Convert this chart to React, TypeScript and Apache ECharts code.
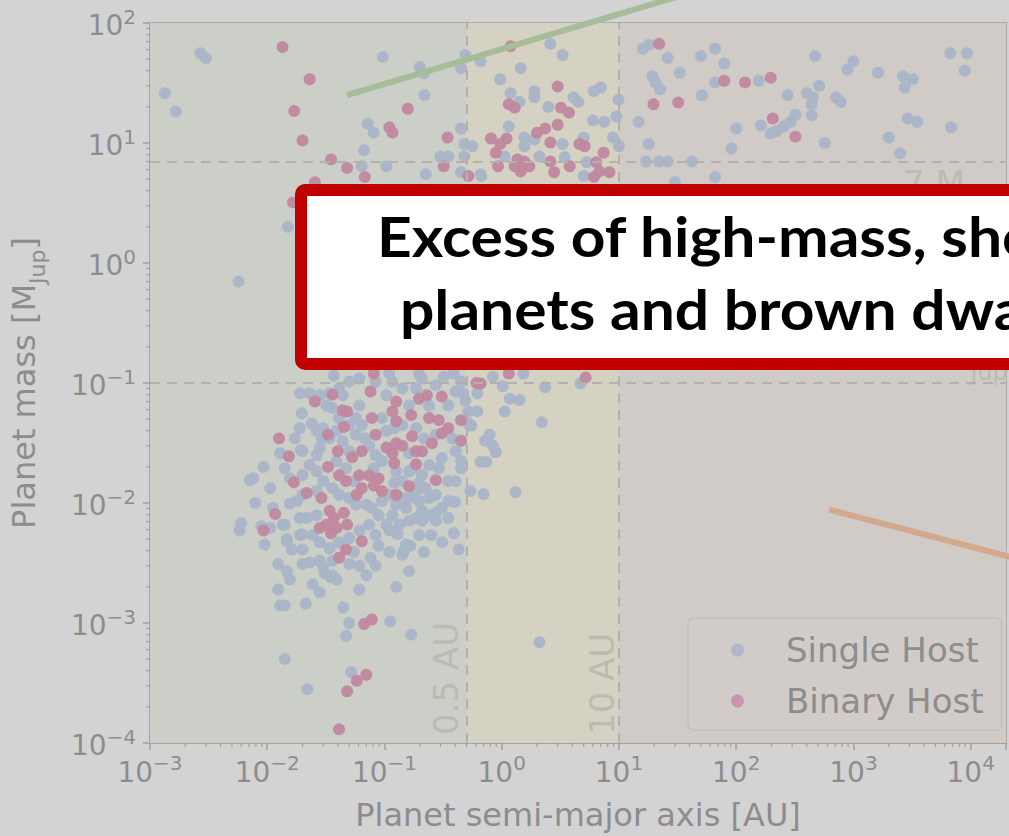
import React, { useEffect, useRef } from 'react';
import * as echarts from 'echarts';

// ---- data: [semi-major axis (AU), mass (M_Jup)] ----
const singleHost: number[][] = [
  [0.00134,26],[0.00166,18.3],[0.0027,56],[0.0030,51],[0.097,52],[0.20,43],[0.217,38],[0.22,25],[0.072,14.5],[0.081,12.2],[0.45,13.2],[0.067,8.7],[0.064,6.4],[0.104,6.4],[0.225,5.5],[0.30,7.7],[0.45,5.7],[0.48,7.7],[0.48,9.8],[0.56,9.4],[0.45,42],[0.49,54],[0.66,48],[0.66,5.5],[0.015,2.0],[0.0057,0.70],
  [2.6,67],[3.3,54],[1.45,42],[0.97,34],[6.1,27],[7.0,29],[1.19,26],[1.9,27],[1.9,24],[1.42,22],[2.5,20],[4.1,24],[4.5,22],[9.9,23],[6.0,15.4],[7.5,15],[9.5,16.6],[1.15,13.7],[1.56,11.1],[1.56,9.4],[1.9,10.7],[3.3,9.8],[5.0,11.1],[8.9,11.1],[10,9.4],[1.06,7.7],[2.1,7.7],[3.45,7.6],[5.3,6.9],[0.67,5.3],[5.0,5.3],[0.35,7.7],
  [16,61],[18,66],[26,51],[50,53],[66,61],[79,46],[19.3,36],[20.5,32],[22.4,28],[33,38.5],[66,32],[156,33],[51,25],[14.7,15],[17.9,9.8],[470,53],[1000,48],[890,41],[1620,38.5],[2640,36],[3200,34],[2740,29],[6700,56],[9300,56],[8900,40],[274,25],[400,26],[450,24],[510,30],[440,21],[440,17],[710,24],[780,22],[320,17.2],[290,15],[254,13.7],[220,12.5],[197,12],[162,14],[100,13.2],[91,9.0],[570,10],[2000,11.1],[2900,16],[3500,15],[2500,8.2],[6800,13.5],[17,7.0],[22,7.0],[26,7.0],[42,7.0],[66,5.2],[30,4.7],
  [1.53,0.12],[0.84,0.113],[1.02,0.094],[2.35,0.092],[4.7,0.099],[1.17,0.074],[1.42,0.072],[0.62,0.058],[1.06,0.058],[2.2,0.047],[0.55,0.044],[0.72,0.033],[0.79,0.037],[0.84,0.030],[0.89,0.0265],[0.66,0.022],[0.74,0.022],[0.54,0.0126],[0.70,0.0119],[1.31,0.0123],[0.40,0.0102],[0.43,0.0041],[2.1,0.00069],
  [0.0197,0.056],[0.0193,0.0275],[0.0093,0.020],[0.0071,0.0155],[0.0141,0.0195],[0.0156,0.0099],[0.0112,0.0091],[0.0060,0.0068],[0.0058,0.0059],[0.0089,0.0064],[0.0095,0.0045],[0.0141,0.0066],[0.0197,0.0055],[0.020,0.0041],[0.0147,0.0050],[0.0162,0.0041],[0.0124,0.0031],[0.0147,0.0027],[0.0156,0.0023],[0.023,0.0032],[0.028,0.0033],[0.0124,0.0019],[0.0129,0.0014],[0.0141,0.0014],[0.0213,0.00145],[0.0244,0.0021],[0.028,0.0018],[0.031,0.0026],[0.035,0.0024],[0.039,0.0023],[0.061,0.0019],[0.126,0.0020],[0.162,0.0027],[0.0445,0.00135],[0.050,0.0010],[0.047,0.00078],[0.112,0.00103],[0.169,0.00080],[0.0141,0.00050],[0.022,0.00028],[0.052,0.00039],[0.25,0.0054],[0.166,0.0044],[0.147,0.0040],[0.129,0.0055],[0.061,0.0030],[0.076,0.0035],[0.084,0.0030],[0.036,0.0025],[0.25,0.0114],[0.274,0.0083],
  [0.023,0.082],[0.032,0.065],[0.050,0.103],[0.061,0.109],[0.041,0.051],[0.030,0.042],[0.029,0.0345],[0.020,0.027],[0.0264,0.025],[0.023,0.0207],[0.0156,0.0161],[0.020,0.0171],[0.0264,0.0184],[0.039,0.0223],[0.047,0.0195],[0.050,0.027],[0.044,0.0327],[0.057,0.037],[0.064,0.0445],[0.061,0.065],[0.095,0.051],[0.104,0.040],[0.142,0.0445],[0.162,0.065],[0.104,0.079],[0.142,0.090],[0.209,0.109],[0.24,0.065],[0.35,0.065],[0.405,0.085],[0.49,0.071],[0.45,0.103],[0.52,0.058],[0.405,0.027],[0.308,0.0236],[0.35,0.0152],[0.405,0.0152],[0.24,0.0207],[0.209,0.0171],[0.162,0.0184],[0.142,0.0152],[0.24,0.011],[0.209,0.0086],[0.186,0.0075],[0.153,0.0091],[0.126,0.0097],[0.117,0.0079],[0.104,0.0066],[0.089,0.0079],[0.078,0.0091],[0.070,0.0097],[0.057,0.0097],[0.050,0.011],[0.041,0.0117],[0.036,0.0133],[0.030,0.0152],[0.0264,0.0126],[0.020,0.0117],[0.0179,0.0104],[0.0136,0.0066],[0.0217,0.0075],[0.0264,0.0079],[0.0244,0.0054],[0.019,0.0054],[0.0147,0.0048],[0.034,0.0042],[0.050,0.0051],[0.061,0.0059],[0.074,0.0066],[0.084,0.0054],[0.110,0.0059],[0.134,0.0066],[0.162,0.0071],[0.209,0.0071],[0.153,0.0045],[0.050,0.0031],[0.036,0.0033],[0.030,0.0029],[0.020,0.0031],[0.070,0.0025],[0.35,0.0104],[0.45,0.0195],[0.274,0.037],[0.186,0.042],[0.142,0.0037],[0.0076,0.0161],[0.028,0.0286],[0.034,0.0345],[0.039,0.040],[0.050,0.0445],[0.057,0.051],[0.074,0.030],[0.084,0.025],[0.095,0.0224],[0.126,0.0184],[0.095,0.0104],[0.110,0.0117],[0.142,0.011],[0.162,0.011],[0.186,0.0126],[0.224,0.0133],[0.274,0.0117],[0.308,0.0091],[0.197,0.0104],[0.24,0.0079],[0.197,0.0054],[0.274,0.0071],[0.274,0.096],[0.186,0.090],[0.117,0.103],[0.084,0.103],[0.044,0.079],[0.036,0.062],[0.0264,0.040],[0.47,0.082],[0.52,0.046],[0.45,0.0224],[0.037,0.115],[0.110,0.12],[0.197,0.118],[0.32,0.113],[0.028,0.079],
  [0.019,0.042],[0.024,0.046],[0.0172,0.0345],[0.0129,0.026],[0.0106,0.0133],[0.35,0.0075],[0.39,0.0056],[0.31,0.0047],[0.217,0.0039],[0.110,0.0039],[0.089,0.0044],[0.055,0.0039],[0.041,0.0047],[0.028,0.0047],[0.162,0.026],[0.217,0.0345],[0.38,0.0345],[0.29,0.0195],[0.081,0.0195],[0.068,0.0345],[0.034,0.082],[0.121,0.042],[0.176,0.0195],[0.055,0.0152],[0.121,0.0147],[0.197,0.0147],[0.019,0.0075],[0.0106,0.0062],[0.0079,0.010],[0.041,0.090],[0.39,0.12],[0.62,0.082],[0.019,0.082],
];

const binaryHost: number[][] = [
  [0.0135,63],[0.023,34],[0.017,18.5],[0.020,10.5],[0.035,7.3],[0.048,6.2],[0.068,5.2],[0.0255,4.7],[0.0166,3.2],[0.158,19.3],[0.11,13.5],[0.117,12.2],[0.345,11.1],[0.32,6.4],[0.52,5.3],[1.19,64],[3.0,29.5],[1.15,21],[1.29,19.7],[3.2,19.7],[3.75,17.9],[3.0,14.2],[2.0,12.2],[2.35,13.2],[0.81,10.9],[1.1,10.9],[0.97,9.8],[0.89,8.3],[2.6,10.1],[4.6,9.8],[5.1,9.4],[7.4,8.3],[1.36,7.3],[1.56,7.0],[1.72,6.4],[1.29,6.4],[1.45,5.8],[0.93,6.4],[2.6,7.0],[2.8,5.7],[3.8,6.4],[6.4,6.9],[6.8,5.8],[8.3,5.7],[6.1,5.2],[22,67],[79,33],[119,32],[197,35],[19.7,21],[32,21.7],[205,16],[320,11.3],
  [1.15,0.12],[0.66,0.099],[5.2,0.111],[0.0126,0.0345],[0.0153,0.0245],[0.0169,0.0149],[0.0217,0.0121],[0.0117,0.0081],[0.0093,0.0059],[0.029,0.011],[0.0255,0.070],[0.036,0.080],[0.033,0.037],[0.045,0.043],[0.048,0.058],[0.076,0.085],[0.081,0.12],[0.040,0.027],[0.033,0.020],[0.061,0.017],[0.074,0.017],[0.089,0.016],[0.064,0.0133],[0.081,0.014],[0.095,0.0126],[0.058,0.0117],[0.041,0.017],[0.047,0.0152],[0.053,0.024],[0.064,0.027],[0.104,0.029],[0.117,0.026],[0.126,0.0315],[0.142,0.030],[0.172,0.036],[0.186,0.027],[0.209,0.027],[0.186,0.021],[0.121,0.0215],[0.162,0.0138],[0.126,0.0117],[0.274,0.0155],[0.254,0.0315],[0.308,0.038],[0.35,0.042],[0.24,0.051],[0.29,0.049],[0.45,0.049],[0.45,0.033],[0.308,0.077],[0.197,0.074],[0.23,0.079],[0.126,0.070],[0.117,0.058],[0.126,0.048],[0.078,0.051],[0.084,0.037],[0.044,0.059],[0.169,0.054],[0.034,0.0086],[0.037,0.0075],[0.032,0.0066],[0.039,0.0062],[0.045,0.0083],[0.028,0.0062],[0.035,0.0056],[0.048,0.0066],[0.064,0.0048],[0.047,0.0041],[0.041,0.0035],[0.078,0.00107],[0.067,0.00098],[0.058,0.00033],[0.070,0.00037],[0.048,0.00027],[0.041,0.00013],[0.61,0.1],
];

const seriesNames = ['Single Host', 'Binary Host'];
const axisRangeAU = [0.001, 20000];
const axisRangeMass = [0.0001, 100];
const zoneEdgesAU = [0.001, 0.5, 10, 20000];
const auDivides = [0.5, 10];
const massDivides = [7, 0.1];
const greenTrend = [[0.048, 25], [60, 200]];
const orangeTrend = [[620, 0.0088], [100000, 0.0024]];
const xExponents = [-3, -2, -1, 0, 1, 2, 3, 4];
const yExponents = [-4, -3, -2, -1, 0, 1];
const minorMultipliers = [2, 3, 4, 5, 6, 7, 8, 9];
const boxLines = ['Excess of high-mass, short-period', 'planets and brown dwarfs'];

const C = {
  page: '#d3d3d3',
  zones: ['#cccfc7', '#d5d2c3', '#d0cbc6'],
  blue: '#a9b5c8',
  pink: '#c0889f',
  legendBlue: '#afb4cb',
  legendPink: '#c98fae',
  text: '#8d8d8d',
  faint: '#bbbbb3',
  spine: '#a0a0a0',
  dash: '#b2b2aa',
  green: '#a7bc99',
  orange: '#d2a98c',
  red: '#c00000',
};

const FONT = 'DejaVu Sans';

function supLabel(v: number) {
  const e = Math.log10(v);
  const n = Math.round(e);
  if (Math.abs(e - n) > 1e-6) return '';
  return '{b|10}{s|' + (n < 0 ? '\u2212' + -n : String(n)) + '}';
}

const tickRich = {
  b: { fontSize: 28, fontFamily: FONT, color: C.text, verticalAlign: 'bottom', lineHeight: 33 },
  s: { fontSize: 20, fontFamily: FONT, color: C.text, verticalAlign: 'top' },
};

export default function App() {
  const ref = useRef<HTMLDivElement>(null);
  useEffect(() => {
    document.body.style.margin = '0';
    const chart = echarts.init(ref.current!, null, { renderer: 'svg' });

    const minorX: number[][] = [];
    xExponents.forEach((k) => minorMultipliers.forEach((m) => {
      const v = m * Math.pow(10, k);
      if (v < axisRangeAU[1]) minorX.push([v, axisRangeMass[0]]);
    }));
    const minorY: number[][] = [];
    yExponents.forEach((k) => minorMultipliers.forEach((m) => {
      const v = m * Math.pow(10, k);
      if (v < axisRangeMass[1]) minorY.push([axisRangeAU[0], v]);
    }));

    const option: any = {
      animation: false,
      backgroundColor: C.page,
      grid: { left: 148, top: 23, width: 867, height: 723, show: true, borderColor: C.spine, borderWidth: 1.5, backgroundColor: 'transparent' },
      legend: {
        orient: 'vertical', left: 688, top: 618,
        padding: [12, 18, 9, 43], itemGap: 11, itemWidth: 13, itemHeight: 13,
        backgroundColor: '#d1ccc8', borderColor: '#c3bfba', borderWidth: 1.5, borderRadius: 6,
        textStyle: { fontSize: 34, fontFamily: FONT, color: C.text, lineHeight: 40, padding: [0, 0, 0, 37] },
        data: [
          { name: seriesNames[0], icon: 'circle', itemStyle: { color: C.legendBlue } },
          { name: seriesNames[1], icon: 'circle', itemStyle: { color: C.legendPink } },
        ],
      },
      xAxis: {
        type: 'log', logBase: 10, min: axisRangeAU[0], max: axisRangeAU[1], splitNumber: 10,
        name: 'Planet semi-major axis [AU]', nameLocation: 'middle', nameGap: 56,
        nameTextStyle: { fontSize: 32, fontFamily: FONT, color: C.text },
        axisLine: { show: true, lineStyle: { color: C.spine, width: 1.5 } },
        axisTick: { show: true, inside: false, length: 7, lineStyle: { color: C.spine, width: 1.5 } },
        splitLine: { show: false },
        axisLabel: { show: true, interval: 0, hideOverlap: false, margin: 10, formatter: supLabel, rich: tickRich },
      },
      yAxis: {
        type: 'log', logBase: 10, min: axisRangeMass[0], max: axisRangeMass[1], splitNumber: 10,
        name: '{n|Planet mass [M}{s|Jup}{n|]}', nameLocation: 'middle', nameGap: 102, nameRotate: 90,
        nameTextStyle: {
          rich: {
            n: { fontSize: 32, fontFamily: FONT, color: C.text, verticalAlign: 'top', lineHeight: 40 },
            s: { fontSize: 22, fontFamily: FONT, color: C.text, verticalAlign: 'bottom' },
          },
        },
        axisLine: { show: true, lineStyle: { color: C.spine, width: 1.5 } },
        axisTick: { show: true, inside: false, length: 7, lineStyle: { color: C.spine, width: 1.5 } },
        splitLine: { show: false },
        axisLabel: { show: true, interval: 0, hideOverlap: false, margin: 14, formatter: supLabel, rich: tickRich },
      },
      series: [
        {
          type: 'line', data: [], silent: true, z: 1,
          markArea: {
            silent: true,
            data: [0, 1, 2].map((i) => [
              { xAxis: zoneEdgesAU[i], itemStyle: { color: C.zones[i] } },
              { xAxis: zoneEdgesAU[i + 1] },
            ]),
          },
          markLine: {
            silent: true, symbol: 'none', label: { show: false },
            lineStyle: { type: [10, 7], color: C.dash, width: 2 },
            data: [
              ...auDivides.map((v) => ({ xAxis: v })),
              ...massDivides.map((v) => ({ yAxis: v })),
            ],
          },
        },
        {
          type: 'custom', silent: true, clip: false, z: 2, data: minorX,
          renderItem: (_p: any, api: any) => {
            const pt = api.coord([api.value(0), api.value(1)]);
            return { type: 'line', shape: { x1: pt[0], y1: pt[1], x2: pt[0], y2: pt[1] + 4 }, style: { stroke: C.spine, lineWidth: 1.2 } };
          },
        },
        {
          type: 'custom', silent: true, clip: false, z: 2, data: minorY,
          renderItem: (_p: any, api: any) => {
            const pt = api.coord([api.value(0), api.value(1)]);
            return { type: 'line', shape: { x1: pt[0], y1: pt[1], x2: pt[0] - 4, y2: pt[1] }, style: { stroke: C.spine, lineWidth: 1.2 } };
          },
        },
        {
          name: seriesNames[0], type: 'scatter', data: singleHost, symbolSize: 12, z: 3,
          itemStyle: { color: C.blue, opacity: 0.95 },
        },
        {
          name: seriesNames[1], type: 'scatter', data: binaryHost, symbolSize: 12, z: 4,
          itemStyle: { color: C.pink, opacity: 0.95 },
        },
        {
          type: 'line', data: greenTrend, showSymbol: false, clip: false, silent: true, z: 5,
          lineStyle: { color: C.green, width: 6 },
        },
        {
          type: 'line', data: orangeTrend, showSymbol: false, clip: false, silent: true, z: 5,
          lineStyle: { color: C.orange, width: 6 },
        },
      ],
      graphic: [
        {
          type: 'text', x: 446, y: 735, rotation: Math.PI / 2, z: 2, silent: true,
          style: { text: '0.5 AU', fontSize: 34, fontFamily: FONT, fill: C.faint, align: 'left', verticalAlign: 'middle' },
        },
        {
          type: 'text', x: 602, y: 735, rotation: Math.PI / 2, z: 2, silent: true,
          style: { text: '10 AU', fontSize: 34, fontFamily: FONT, fill: C.faint, align: 'left', verticalAlign: 'middle' },
        },
        {
          type: 'text', x: 903, y: 166, z: 2, silent: true,
          style: {
            text: '{a|7 M}{s|Jup}', align: 'left', verticalAlign: 'top',
            rich: { a: { fontSize: 34, fontFamily: FONT, fill: C.faint, verticalAlign: 'top', lineHeight: 44 }, s: { fontSize: 24, fontFamily: FONT, fill: C.faint, verticalAlign: 'bottom' } },
          },
        },
        {
          type: 'text', x: 876, y: 340, z: 2, silent: true,
          style: {
            text: '{a|0.1 M}{s|Jup}', align: 'left', verticalAlign: 'top',
            rich: { a: { fontSize: 34, fontFamily: FONT, fill: C.faint, verticalAlign: 'top', lineHeight: 44 }, s: { fontSize: 24, fontFamily: FONT, fill: C.faint, verticalAlign: 'bottom' } },
          },
        },
        {
          type: 'rect', z: 100, silent: true,
          shape: { x: 301, y: 190, width: 900, height: 174, r: 4 },
          style: { fill: '#ffffff', stroke: C.red, lineWidth: 12 },
        },
        {
          type: 'text', x: 377, y: 236, scaleX: 1.1, z: 101, silent: true,
          style: { text: boxLines[0], fontSize: 55, fontWeight: 'bold', fontFamily: 'Lato', fill: '#000000', align: 'left', verticalAlign: 'middle' },
        },
        {
          type: 'text', x: 400, y: 309, scaleX: 1.1, z: 101, silent: true,
          style: { text: boxLines[1], fontSize: 55, fontWeight: 'bold', fontFamily: 'Lato', fill: '#000000', align: 'left', verticalAlign: 'middle' },
        },
      ],
    };
    chart.setOption(option);
    return () => chart.dispose();
  }, []);
  return <div ref={ref} style={{ position: 'fixed', left: 0, top: 0, width: 1009, height: 836 }} />;
}
